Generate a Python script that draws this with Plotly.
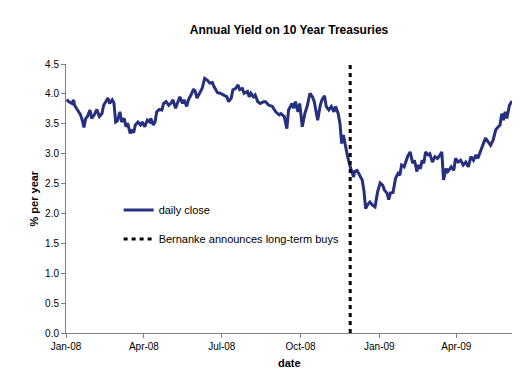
import plotly.graph_objects as go

dates = [
    "2008-01-02", "2008-01-04", "2008-01-08", "2008-01-10", "2008-01-11", "2008-01-15", "2008-01-18",
    "2008-01-20", "2008-01-22", "2008-01-24", "2008-01-26", "2008-01-29", "2008-01-31", "2008-02-03",
    "2008-02-06", "2008-02-09", "2008-02-12", "2008-02-14", "2008-02-17", "2008-02-19", "2008-02-21",
    "2008-02-24", "2008-02-26", "2008-02-28", "2008-03-01", "2008-03-04", "2008-03-06", "2008-03-09",
    "2008-03-11", "2008-03-13", "2008-03-16", "2008-03-18", "2008-03-20", "2008-03-22", "2008-03-25",
    "2008-03-28", "2008-03-30", "2008-04-02", "2008-04-05", "2008-04-08", "2008-04-09", "2008-04-12",
    "2008-04-14", "2008-04-16", "2008-04-19", "2008-04-22", "2008-04-24", "2008-04-27", "2008-04-30",
    "2008-05-03", "2008-05-05", "2008-05-08", "2008-05-10", "2008-05-13", "2008-05-16", "2008-05-18",
    "2008-05-21", "2008-05-23", "2008-05-26", "2008-05-29", "2008-05-31", "2008-06-02", "2008-06-05",
    "2008-06-08", "2008-06-11", "2008-06-14", "2008-06-17", "2008-06-20", "2008-06-22", "2008-06-26",
    "2008-06-29", "2008-07-03", "2008-07-07", "2008-07-09", "2008-07-12", "2008-07-14", "2008-07-17",
    "2008-07-20", "2008-07-22", "2008-07-25", "2008-07-27", "2008-07-31", "2008-08-02", "2008-08-04",
    "2008-08-07", "2008-08-09", "2008-08-12", "2008-08-15", "2008-08-19", "2008-08-21", "2008-08-25",
    "2008-08-29", "2008-09-02", "2008-09-06", "2008-09-08", "2008-09-12", "2008-09-15", "2008-09-17",
    "2008-09-21", "2008-09-23", "2008-09-25", "2008-09-28", "2008-09-30", "2008-10-03", "2008-10-06",
    "2008-10-09", "2008-10-12", "2008-10-15", "2008-10-17", "2008-10-21", "2008-10-24", "2008-10-26",
    "2008-10-29", "2008-10-31", "2008-11-03", "2008-11-06", "2008-11-09", "2008-11-11", "2008-11-14",
    "2008-11-16", "2008-11-18", "2008-11-20", "2008-11-23", "2008-11-25", "2008-11-28", "2008-12-02",
    "2008-12-03", "2008-12-06", "2008-12-09", "2008-12-12", "2008-12-14", "2008-12-16", "2008-12-18",
    "2008-12-21", "2008-12-24", "2008-12-27", "2008-12-30", "2009-01-02", "2009-01-05", "2009-01-07",
    "2009-01-10", "2009-01-12", "2009-01-14", "2009-01-17", "2009-01-20", "2009-01-23", "2009-01-25",
    "2009-01-27", "2009-01-30", "2009-02-01", "2009-02-03", "2009-02-06", "2009-02-09", "2009-02-11",
    "2009-02-14", "2009-02-15", "2009-02-18", "2009-02-20", "2009-02-22", "2009-02-24", "2009-02-27",
    "2009-03-01", "2009-03-04", "2009-03-07", "2009-03-10", "2009-03-13", "2009-03-15", "2009-03-17",
    "2009-03-20", "2009-03-22", "2009-03-26", "2009-03-29", "2009-03-31", "2009-04-03", "2009-04-06",
    "2009-04-09", "2009-04-12", "2009-04-15", "2009-04-18", "2009-04-21", "2009-04-24", "2009-04-26",
    "2009-04-30", "2009-05-03", "2009-05-05", "2009-05-08", "2009-05-11", "2009-05-14", "2009-05-17",
    "2009-05-20", "2009-05-22", "2009-05-24", "2009-05-26", "2009-05-28", "2009-05-30", "2009-06-02",
    "2009-06-04", "2009-06-05",
]

yields = [
    3.91, 3.87, 3.84, 3.90, 3.81, 3.73, 3.65,
    3.56, 3.44, 3.59, 3.62, 3.73, 3.59, 3.65,
    3.74, 3.62, 3.67, 3.81, 3.87, 3.93, 3.84,
    3.90, 3.85, 3.53, 3.55, 3.70, 3.53, 3.59,
    3.45, 3.51, 3.34, 3.40, 3.35, 3.48, 3.53,
    3.48, 3.53, 3.45, 3.56, 3.53, 3.59, 3.48,
    3.53, 3.70, 3.74, 3.73, 3.84, 3.87, 3.81,
    3.85, 3.90, 3.76, 3.84, 3.95, 3.84, 3.90,
    3.79, 3.90, 3.98, 4.08, 4.04, 3.93, 4.01,
    4.09, 4.26, 4.23, 4.18, 4.19, 4.12, 4.02,
    4.01, 3.98, 3.95, 3.87, 3.93, 4.07, 4.09,
    4.15, 4.07, 4.09, 4.01, 4.04, 3.95, 4.01,
    3.95, 3.98, 3.87, 3.84, 3.87, 3.87, 3.81,
    3.79, 3.70, 3.65, 3.67, 3.62, 3.42, 3.73,
    3.84, 3.76, 3.87, 3.70, 3.84, 3.45, 3.67,
    3.81, 4.01, 3.95, 3.87, 3.56, 3.81, 3.90,
    3.97, 3.79, 3.73, 3.79, 3.70, 3.79, 3.67,
    3.51, 3.17, 3.31, 3.06, 2.95, 2.78, 2.61,
    2.70, 2.72, 2.64, 2.56, 2.39, 2.08, 2.14,
    2.19, 2.14, 2.11, 2.36, 2.51, 2.47, 2.39,
    2.34, 2.23, 2.34, 2.35, 2.59, 2.67, 2.64,
    2.81, 2.78, 2.86, 2.95, 3.03, 2.84, 2.89,
    2.70, 2.81, 2.75, 2.89, 2.84, 3.03, 2.98,
    3.00, 2.86, 2.95, 2.92, 2.98, 3.03, 2.56,
    2.75, 2.70, 2.78, 2.72, 2.92, 2.86, 2.89,
    2.81, 2.86, 2.78, 2.95, 2.89, 2.98, 2.92,
    3.06, 3.17, 3.26, 3.20, 3.14, 3.23, 3.40,
    3.45, 3.48, 3.67, 3.56, 3.70, 3.59, 3.81,
    3.87, 3.88,
]

event_date = "2008-11-28"
event_span = [0, 4.5]

series_name = "daily close"
event_name = "Bernanke announces long-term buys"
title_text = "Annual Yield on 10 Year Treasuries"
x_title = "date"
y_title = "% per year"

FONT = "Liberation Sans, Arial, sans-serif"

W, H = 522, 368  # page body has an 8px margin

fig = go.Figure()
fig.add_trace(go.Scatter(
    x=dates, y=yields, mode="lines", name=series_name,
    line=dict(color="#26307f", width=3), legendgroup="a",
))
fig.add_trace(go.Scatter(
    x=[event_date, event_date], y=event_span, mode="lines", name=event_name,
    line=dict(color="black", width=3, dash="4px,4px"), legendgroup="b",
))

fig.update_layout(
    width=W, height=H,
    margin=dict(l=58, r=18, t=56, b=43),
    paper_bgcolor="white", plot_bgcolor="white",
    font=dict(family=FONT, color="black", size=10),
    title=dict(text="<b>" + title_text + "</b>", x=0.5, xref="paper",
               y=1 - 22 / H, yref="container", yanchor="middle",
               xanchor="center", font=dict(size=12, family=FONT, color="black")),
    showlegend=True,
    legend=dict(x=0.118, y=0.511, xanchor="left", yanchor="top",
                bgcolor="rgba(0,0,0,0)", font=dict(size=11, family=FONT),
                tracegroupgap=10, itemwidth=30),
    xaxis=dict(type="date", range=["2008-01-01", "2009-06-05"],
               tick0="2008-01-01", dtick="M3", tickformat="%b-%y",
               showgrid=False, showline=True, linecolor="#808080", linewidth=1,
               ticks="outside", ticklen=4, tickcolor="#808080", zeroline=False,
               tickfont=dict(size=10)),
    yaxis=dict(range=[0, 4.5], dtick=0.5, tickformat=".1f",
               showgrid=False, showline=True, linecolor="#808080", linewidth=1,
               ticks="outside", ticklen=4, tickcolor="#808080", zeroline=False,
               tickfont=dict(size=10)),
    annotations=[
        dict(text="<b>" + x_title + "</b>", xref="paper", yref="paper", x=0.5, y=0,
             xanchor="center", yanchor="middle", yshift=-30, showarrow=False,
             font=dict(size=11, family=FONT)),
        dict(text="<b>" + y_title + "</b>", xref="paper", yref="paper", x=0, y=0.5,
             xanchor="center", yanchor="middle", xshift=-33, textangle=-90, showarrow=False,
             font=dict(size=11, family=FONT)),
    ],
)

fig.write_html("out.html")
